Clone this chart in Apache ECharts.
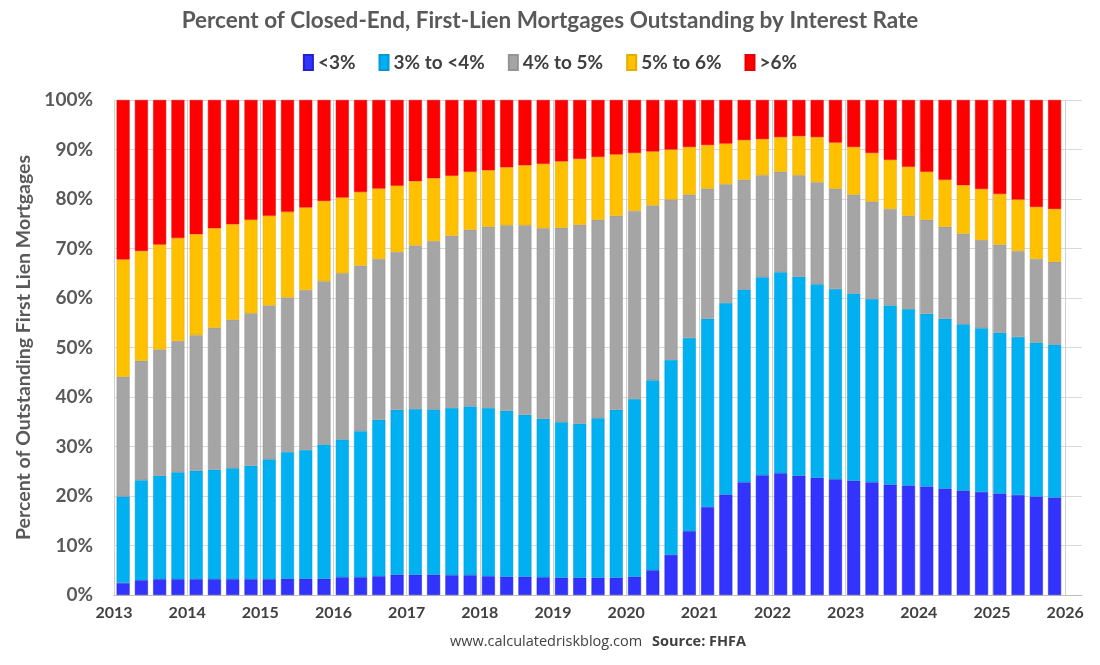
<!DOCTYPE html>
<html>
<head>
<meta charset="utf-8">
<script src="https://cdn.jsdelivr.net/npm/echarts@6/dist/echarts.min.js"></script>
<style>html,body{margin:0;padding:0;background:#fff}#c{width:1100px;height:665px}</style>
</head>
<body>
<div id="c"></div>
<script>
const quarters = [];
const startYear = 2013, endYear = 2026;
for (let y = startYear; y < endYear; y++) for (let q = 1; q <= 4; q++) quarters.push(y + 'Q' + q);
const yearLabels = ['2013','2014','2015','2016','2017','2018','2019','2020','2021','2022','2023','2024','2025','2026'];
const seriesNames = ['<3%', '3% to <4%', '4% to 5%', '5% to 6%', '>6%'];

const below3 = [2.4,3.0,3.2,3.2, 3.2,3.2,3.2,3.2, 3.2,3.3,3.3,3.3, 3.6,3.6,3.8,4.1, 4.1,4.1,4.0,4.0,
  3.8,3.7,3.7,3.6, 3.5,3.5,3.5,3.5, 3.7,5.0,8.1,12.9, 17.8,20.3,22.8,24.2, 24.6,24.1,23.7,23.4,
  23.1,22.8,22.3,22.1, 21.9,21.5,21.1,20.8, 20.5,20.2,19.9,19.7];
const r3to4 = [17.5,20.2,20.9,21.6, 21.9,22.1,22.4,22.9, 24.2,25.6,26.0,27.1, 27.8,29.5,31.6,33.3, 33.5,33.4,33.8,34.1,
  34.0,33.5,32.7,32.0, 31.4,31.1,32.2,33.9, 35.9,38.4,39.4,39.0, 38.0,38.7,38.9,40.0, 40.6,40.2,39.1,38.4,
  37.8,37.0,36.2,35.7, 34.9,34.3,33.6,33.1, 32.5,31.9,31.1,30.9];
const r4to5 = [24.2,24.1,25.5,26.5, 27.4,28.7,30.0,30.8, 31.1,31.2,32.3,33.0, 33.6,33.4,32.5,31.9, 33.0,34.0,34.8,35.7,
  36.6,37.5,38.3,38.5, 39.3,40.2,40.1,39.2, 38.0,35.3,32.4,29.0, 26.3,24.0,22.2,20.6, 20.3,20.5,20.6,20.3,
  20.0,19.7,19.5,18.8, 19.0,18.6,18.3,17.8, 17.8,17.4,16.9,16.7];
const r5to6 = [23.7,22.2,21.2,20.8, 20.4,20.1,19.3,18.9, 18.1,17.3,16.7,16.2, 15.3,14.9,14.2,13.4, 13.0,12.7,12.1,11.7,
  11.4,11.7,12.1,13.0, 13.4,13.3,12.7,12.4, 11.7,10.9,10.1,9.6, 8.8,8.2,8.0,7.3, 7.0,7.9,9.1,9.3,
  9.6,9.8,9.9,9.9, 9.7,9.5,9.8,10.3, 10.2,10.4,10.5,10.7];
const above6 = [32.2,30.5,29.2,27.9, 27.1,25.9,25.1,24.2, 23.4,22.6,21.7,20.4, 19.7,18.6,17.9,17.3, 16.4,15.8,15.3,14.5,
  14.2,13.6,13.2,12.9, 12.4,11.9,11.5,11.0, 10.7,10.4,10.0,9.5, 9.1,8.8,8.1,7.9, 7.5,7.3,7.5,8.6,
  9.5,10.7,12.1,13.5, 14.5,16.1,17.2,18.0, 19.0,20.1,21.6,22.0];

const colors = ['#3333FF', '#00B0F0', '#A5A5A5', '#FFC000', '#FF0000'];
const borders = ['#2222CC', '#0099D6', '#949494', '#E6AD00', '#E60000'];
const allData = [below3, r3to4, r4to5, r5to6, above6];
const fontCond = "Lato, 'Liberation Sans', sans-serif";

const chart = echarts.init(document.getElementById('c'));
chart.setOption({
  animation: false,
  backgroundColor: '#fff',
  color: colors,
  title: {
    text: 'Percent of Closed-End, First-Lien Mortgages Outstanding by Interest Rate',
    left: 'center', top: 4,
    textStyle: { fontFamily: fontCond, fontWeight: 'bold', fontSize: 22.5, color: '#595959' }
  },
  legend: {
    top: 48, left: 'center',
    icon: 'rect', itemWidth: 9, itemHeight: 15, itemGap: 23,
    textStyle: { fontFamily: fontCond, fontWeight: 'bold', fontSize: 19, color: '#404040' },
    data: seriesNames
  },
  grid: { left: 114, right: 18, top: 100, bottom: 70, containLabel: false },
  xAxis: [
    {
      type: 'category', data: quarters, boundaryGap: true, max: quarters.length,
      axisLine: { show: true, lineStyle: { color: '#BFBFBF', width: 1 } },
      axisTick: { show: false }, axisLabel: { show: false }, splitLine: { show: false }
    },
    {
      type: 'value', min: 2013, max: 2026.23, interval: 1, position: 'bottom',
      axisLine: { show: false }, axisTick: { show: false },
      splitLine: { show: true, showMaxLine: false, lineStyle: { color: '#D0D0D0', width: 1 } },
      axisLabel: {
        margin: 10, showMaxLabel: false,
        formatter: v => (Number.isInteger(v) ? yearLabels[v - 2013] : ''),
        fontFamily: fontCond, fontWeight: 'bold', fontSize: 16, color: '#404040'
      }
    }
  ],
  yAxis: {
    type: 'value', min: 0, max: 100, interval: 10,
    name: 'Percent of Outstanding First Lien Mortgages',
    nameLocation: 'middle', nameGap: 70, nameRotate: 90,
    nameTextStyle: { fontFamily: fontCond, fontWeight: 'bold', fontSize: 19.5, color: '#595959' },
    axisLine: { show: false }, axisTick: { show: false },
    splitLine: { lineStyle: { color: '#D9D9D9', width: 1 } },
    axisLabel: {
      formatter: '{value}%', margin: 21,
      fontFamily: fontCond, fontWeight: 'bold', fontSize: 19, color: '#595959'
    }
  },
  series: seriesNames.map((n, i) => ({
    name: n, type: 'bar', stack: 'total', xAxisIndex: 0,
    barWidth: 13,
    itemStyle: { color: colors[i], borderColor: borders[i], borderWidth: 0.5 },
    data: allData[i]
  })),
  graphic: [{
    type: 'text', left: 450, top: 634,
    style: {
      text: '{a|www.calculatedriskblog.com}   {b|Source: FHFA}',
      rich: {
        a: { fontFamily: "'Open Sans', sans-serif", fontSize: 14.5, fill: '#404040' },
        b: { fontFamily: "'Open Sans', sans-serif", fontSize: 14.5, fontWeight: 'bold', fill: '#404040' }
      }
    }
  }]
});
</script>
</body>
</html>
